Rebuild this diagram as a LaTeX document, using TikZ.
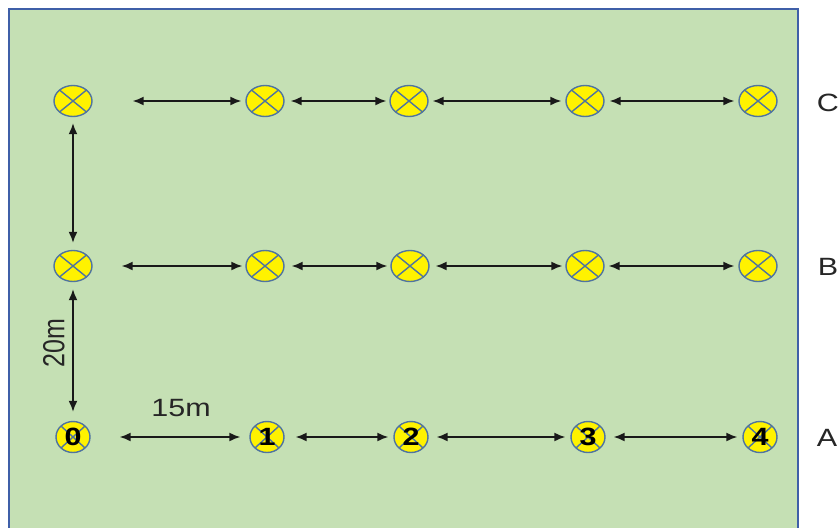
\documentclass[tikz,border=0pt]{standalone}
\usepackage{fontspec}
\setmainfont{Liberation Sans}
\usetikzlibrary{shapes.geometric,arrows.meta}
\definecolor{fieldgreen}{HTML}{C5E0B4}
\definecolor{fieldedge}{HTML}{3F5FA8}
\definecolor{lampedge}{HTML}{4F74A0}
\newcommand{\hstretch}[1]{\scalebox{1.22}[1]{#1}}
\newcommand{\vstretch}[1]{\scalebox{1}[1.22]{#1}}
\begin{document}
\begin{tikzpicture}[x=1pt,y=-1pt,
 lamp/.style={ellipse, draw=lampedge, line width=1.4pt, fill=yellow,
   minimum width=38pt, minimum height=31pt, inner sep=0pt,
   path picture={\draw[lampedge, line width=1.4pt]
     (path picture bounding box.north west) -- (path picture bounding box.south east)
     (path picture bounding box.north east) -- (path picture bounding box.south west);}},
 numlamp/.style={lamp, minimum width=34pt, font=\fontsize{25}{25}\selectfont\bfseries},
 dist/.style={{Latex[length=11pt,width=9pt]}-{Latex[length=11pt,width=9pt]}, line width=1.6pt, black!90},
 lbl/.style={font=\fontsize{25}{25}\selectfont, text=black!85, inner sep=0pt}]
\useasboundingbox (0,0) rectangle (839,528);
\clip (0,0) rectangle (839,528);
\draw[fill=fieldgreen, draw=fieldedge, line width=2pt] (9,9) rectangle (798,545);
% row C
\node[lamp] (c0) at (73,101) {};
\node[lamp] (c1) at (265,101) {};
\node[lamp] (c2) at (409,101) {};
\node[lamp] (c3) at (585,101) {};
\node[lamp] (c4) at (758,101) {};
% row B
\node[lamp] (b0) at (73,266) {};
\node[lamp] (b1) at (265,266) {};
\node[lamp] (b2) at (410,266) {};
\node[lamp] (b3) at (585,266) {};
\node[lamp] (b4) at (758,266) {};
% row A
\node[numlamp] (a0) at (73,437) {\hstretch{0}};
\node[numlamp] (a1) at (267,437) {\hstretch{1}};
\node[numlamp] (a2) at (411,437) {\hstretch{2}};
\node[numlamp] (a3) at (588,437) {\hstretch{3}};
\node[numlamp] (a4) at (760,437) {\hstretch{4}};
% arrows row C
\draw[dist, shorten <=40pt, shorten >=4pt] (c0) -- (c1);
\draw[dist, shorten <=6pt, shorten >=3pt] (c1) -- (c2);
\draw[dist, shorten <=4pt, shorten >=4pt] (c2) -- (c3);
\draw[dist, shorten <=5pt, shorten >=4pt] (c3) -- (c4);
% arrows row B
\draw[dist, shorten <=29pt, shorten >=3pt] (b0) -- (b1);
\draw[dist, shorten <=7pt, shorten >=3pt] (b1) -- (b2);
\draw[dist, shorten <=6pt, shorten >=3pt] (b2) -- (b3);
\draw[dist, shorten <=4pt, shorten >=4pt] (b3) -- (b4);
% arrows row A
\draw[dist, shorten <=29pt, shorten >=9pt] (a0) -- (a1);
\draw[dist, shorten <=11pt, shorten >=5pt] (a1) -- (a2);
\draw[dist, shorten <=8pt, shorten >=5pt] (a2) -- (a3);
\draw[dist, shorten <=8pt, shorten >=5pt] (a3) -- (a4);
% vertical arrows
\draw[dist, shorten <=6pt, shorten >=7pt] (c0) -- (b0);
\draw[dist, shorten <=7pt, shorten >=9pt] (b0) -- (a0);
% labels
\node[lbl] (lc) at (828,103) {\hstretch{C}};
\node[lbl] (lb) at (828,267) {\hstretch{B}};
\node[lbl] (la) at (827,438) {\hstretch{A}};
\node[lbl] (d15) at (181,408) {\hstretch{15m}};
\node[lbl, rotate=90] (d20) at (54,343) {\vstretch{20m}};
\end{tikzpicture}
\end{document}
